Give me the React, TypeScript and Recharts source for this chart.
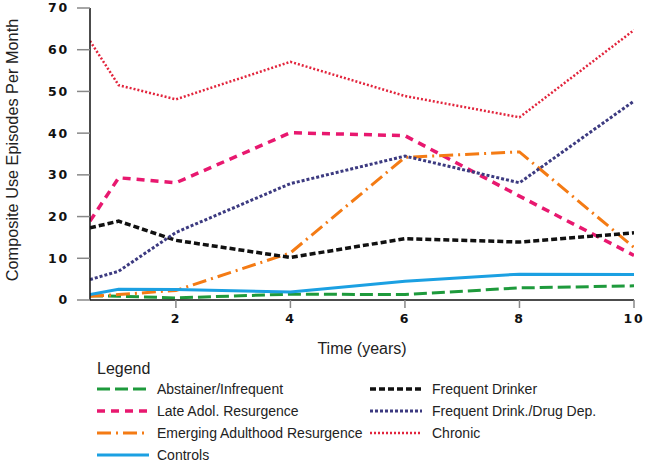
import React from 'react';
import { LineChart, Line, XAxis, YAxis } from 'recharts';

const times = [0.5, 1, 2, 4, 6, 8, 10];
const abstainer = [1.0, 0.9, 0.5, 1.4, 1.3, 2.9, 3.4];
const lateAdol = [18.9, 29.3, 28.1, 40.1, 39.4, 24.9, 10.7];
const emerging = [0.9, 1.3, 2.3, 11.3, 34.2, 35.5, 12.6];
const controls = [1.3, 2.6, 2.5, 1.9, 4.5, 6.2, 6.1];
const freqDrinker = [17.3, 18.9, 14.3, 10.2, 14.7, 13.9, 16.1];
const drugDep = [4.9, 6.9, 16.2, 27.9, 34.5, 28.1, 47.7];
const chronic = [62.1, 51.5, 48.1, 57.1, 48.9, 43.8, 64.7];

const xTicks = [2, 4, 6, 8, 10];
const yTicks = [0, 10, 20, 30, 40, 50, 60, 70];

const series = [
  { key: 'abstainer', name: 'Abstainer/Infrequent', values: abstainer, color: '#1e9a3c', dash: '13 5', width: 3, col: 0 },
  { key: 'lateAdol', name: 'Late Adol. Resurgence', values: lateAdol, color: '#e8186f', dash: '8 6', width: 3.5, col: 0 },
  { key: 'emerging', name: 'Emerging Adulthood Resurgence', values: emerging, color: '#f47b14', dash: '14 5 2 5', width: 3, col: 0 },
  { key: 'controls', name: 'Controls', values: controls, color: '#1ba0e2', dash: undefined, width: 3, col: 0 },
  { key: 'freqDrinker', name: 'Frequent Drinker', values: freqDrinker, color: '#111111', dash: '6 3', width: 3.5, col: 1 },
  { key: 'drugDep', name: 'Frequent Drink./Drug Dep.', values: drugDep, color: '#3c3a80', dash: '3 2', width: 3, col: 1 },
  { key: 'chronic', name: 'Chronic', values: chronic, color: '#e2243c', dash: '2 2', width: 2.5, col: 1 },
];

const data = times.map((t, i) => {
  const row: Record<string, number> = { t };
  series.forEach((s) => {
    row[s.key] = s.values[i];
  });
  return row;
});

const tickFont = { fontFamily: 'DejaVu Sans', fontWeight: 700, fontSize: 12.5, fill: '#111', letterSpacing: 1.8 };

function LegendBlock() {
  const cols = [series.filter((s) => s.col === 0), series.filter((s) => s.col === 1)];
  const colX = [97, 370];
  return (
    <div style={{ position: 'absolute', left: 0, top: 0, width: 649, height: 465, pointerEvents: 'none', fontFamily: 'Liberation Sans, Arial, sans-serif', color: '#222' }}>
      <div style={{ position: 'absolute', left: 97, top: 360, fontSize: 16 }}>Legend</div>
      {cols.map((c, ci) =>
        c.map((s, ri) => (
          <div key={s.key} style={{ position: 'absolute', left: colX[ci], top: 380 + ri * 22, height: 18, display: 'flex', alignItems: 'center' }}>
            <svg width={54} height={18} style={{ display: 'block' }}>
              <line x1={0} y1={9} x2={52} y2={9} stroke={s.color} strokeWidth={s.width} strokeDasharray={s.dash} />
            </svg>
            <span style={{ marginLeft: ci === 0 ? 6 : 8, fontSize: 14, whiteSpace: 'nowrap' }}>{s.name}</span>
          </div>
        ))
      )}
    </div>
  );
}

export default function App() {
  return (
    <div style={{ position: 'absolute', left: 0, top: 0, width: 649, height: 465, background: '#fff' }}>
      <LineChart width={649} height={465} data={data} margin={{ top: 8, right: 15, bottom: 135, left: 0 }}>
        <XAxis
          dataKey="t"
          type="number"
          domain={[0.5, 10]}
          ticks={xTicks}
          allowDataOverflow
          tick={tickFont}
          tickSize={8}
          tickMargin={6}
          axisLine={{ stroke: '#111', strokeWidth: 1.5 }}
          tickLine={{ stroke: '#888', strokeWidth: 1.5 }}
          height={30}
          label={{ value: 'Time (years)', position: 'bottom', offset: 13, style: { fontFamily: 'Liberation Sans, Arial', fontSize: 16, fill: '#222' } }}
        />
        <YAxis
          type="number"
          domain={[0, 70]}
          ticks={yTicks}
          width={90}
          tick={tickFont}
          tickSize={13}
          tickMargin={8}
          axisLine={{ stroke: '#111', strokeWidth: 1.5 }}
          tickLine={{ stroke: '#888', strokeWidth: 1.5 }}
          label={{ value: 'Composite Use Episodes Per Month', angle: -90, position: 'center', dx: -33, dy: -4, style: { fontFamily: 'Liberation Sans, Arial', fontSize: 16.3, fill: '#222', textAnchor: 'middle' } }}
        />
        {series.map((s) => (
          <Line
            key={s.key}
            dataKey={s.key}
            name={s.name}
            stroke={s.color}
            strokeWidth={s.width}
            strokeDasharray={s.dash}
            dot={false}
            activeDot={false}
            type="linear"
            isAnimationActive={false}
          />
        ))}
      </LineChart>
      <LegendBlock />
    </div>
  );
}
